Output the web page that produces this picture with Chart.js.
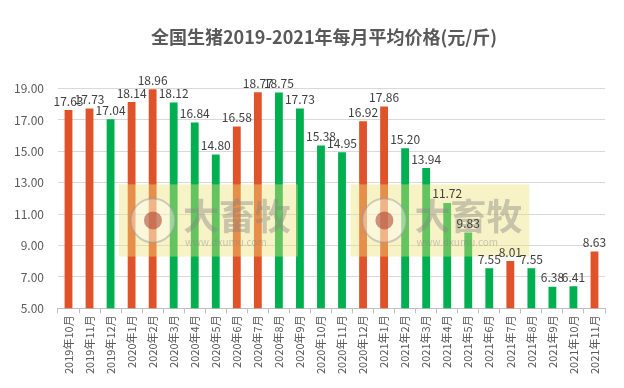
<!DOCTYPE html>
<html><head><meta charset="utf-8">
<script src="https://cdn.jsdelivr.net/npm/chart.js@4.4.1/dist/chart.umd.min.js"></script>
<style>html,body{margin:0;padding:0;background:#fff}#wrap{width:624px;height:388px}</style>
</head><body><div id="wrap"><canvas id="c" width="624" height="388"></canvas></div>
<script>
const categories = ['2019年10月','2019年11月','2019年12月','2020年1月','2020年2月','2020年3月','2020年4月','2020年5月','2020年6月','2020年7月','2020年8月','2020年9月','2020年10月','2020年11月','2020年12月','2021年1月','2021年2月','2021年3月','2021年4月','2021年5月','2021年6月','2021年7月','2021年8月','2021年9月','2021年10月','2021年11月'];
const prices = [17.63,17.73,17.04,18.14,18.96,18.12,16.84,14.80,16.58,18.77,18.75,17.73,15.38,14.95,16.92,17.86,15.20,13.94,11.72,9.83,7.55,8.01,7.55,6.38,6.41,8.63];
const trend = ['up','up','down','up','up','down','down','down','up','up','down','down','down','down','up','up','down','down','down','down','down','up','down','down','down','up'];
const yTicks = [5,7,9,11,13,15,17,19];
const titleText = '全国生猪2019-2021年每月平均价格(元/斤)';

const UP = '#E0522A', DOWN = '#00B050';
const FONT = '"Noto Sans CJK SC", "Noto Sans", sans-serif';

const titlePlugin = {
  id: 'centeredTitle',
  afterDraw(chart) {
    const ctx = chart.ctx;
    ctx.save();
    ctx.font = 'bold 18px ' + FONT;
    ctx.fillStyle = '#595959';
    ctx.textAlign = 'center';
    ctx.textBaseline = 'middle';
    ctx.fillText(titleText, chart.width / 2 + 12, 37);
    ctx.restore();
  }
};

const labelPlugin = {
  id: 'valueLabels',
  afterDatasetsDraw(chart) {
    const ctx = chart.ctx;
    const meta = chart.getDatasetMeta(0);
    ctx.save();
    ctx.font = '12px ' + FONT;
    ctx.fillStyle = '#404040';
    ctx.textAlign = 'center';
    ctx.textBaseline = 'bottom';
    meta.data.forEach((bar, i) => {
      ctx.fillText(prices[i].toFixed(2), bar.x, bar.y - 3);
    });
    ctx.restore();
  }
};

const watermarkPlugin = {
  id: 'watermark',
  afterDatasetsDraw(chart) {
    const ctx = chart.ctx;
    const xs = chart.scales.x;
    const ys = chart.scales.y;
    const boxes = [[xs.getPixelForValue(2.4), xs.getPixelForValue(10.9)], [xs.getPixelForValue(13.4), xs.getPixelForValue(21.9)]];
    const top = ys.getPixelForValue(12.9), bot = ys.getPixelForValue(8.3);
    ctx.save();
    boxes.forEach(([l, r]) => {
      ctx.fillStyle = 'rgba(238,226,120,0.42)';
      ctx.fillRect(l, top, r - l, bot - top);
      const cx = l + 34, cy = (top + bot) / 2;
      ctx.beginPath(); ctx.arc(cx, cy, 22, 0, Math.PI * 2);
      ctx.fillStyle = 'rgba(255,255,255,0.35)'; ctx.fill();
      ctx.lineWidth = 2; ctx.strokeStyle = 'rgba(150,150,150,0.45)'; ctx.stroke();
      ctx.beginPath(); ctx.arc(cx, cy, 9, 0, Math.PI * 2);
      ctx.fillStyle = 'rgba(170,60,40,0.55)'; ctx.fill();
      ctx.font = 'bold 36px ' + FONT;
      ctx.fillStyle = 'rgba(130,130,130,0.42)';
      ctx.textAlign = 'left'; ctx.textBaseline = 'middle';
      ctx.fillText('大畜牧', l + 64, cy - 4);
      ctx.font = '10px ' + FONT;
      ctx.fillText('www.dxumu.com', l + 66, cy + 22);
    });
    ctx.restore();
  }
};

new Chart(document.getElementById('c'), {
  type: 'bar',
  data: {
    labels: categories,
    datasets: [{
      data: prices,
      backgroundColor: trend.map(t => t === 'up' ? UP : DOWN),
      barPercentage: 0.6,
      categoryPercentage: 0.62
    }]
  },
  options: {
    responsive: false,
    animation: false,
    events: [],
    layout: { padding: { left: 0, right: 19, top: 0, bottom: 12 } },
    plugins: {
      legend: { display: false },
      tooltip: { enabled: false },
      title: {
        display: true,
        text: titleText,
        color: 'rgba(0,0,0,0)',
        font: { family: FONT, size: 18, weight: 'bold' },
        padding: { top: 26, bottom: 41 }
      }
    },
    scales: {
      x: {
        grid: { display: true, drawOnChartArea: false, offset: true, color: '#BFBFBF', tickLength: 5, tickColor: '#BFBFBF' },
        border: { display: true, color: '#BFBFBF' },
        ticks: {
          color: '#595959', font: { family: FONT, size: 11 },
          minRotation: 90, maxRotation: 90, autoSkip: false, padding: 2
        }
      },
      y: {
        min: 5, max: 19,
        afterBuildTicks(scale) { scale.ticks = yTicks.map(v => ({ value: v })); },
        grid: { color: '#D9D9D9', drawTicks: false },
        border: { display: false },
        ticks: {
          color: '#595959', font: { family: FONT, size: 12 }, padding: 14,
          callback: v => Number(v).toFixed(2)
        }
      }
    }
  },
  plugins: [watermarkPlugin, labelPlugin, titlePlugin]
});
</script>
</body></html>
